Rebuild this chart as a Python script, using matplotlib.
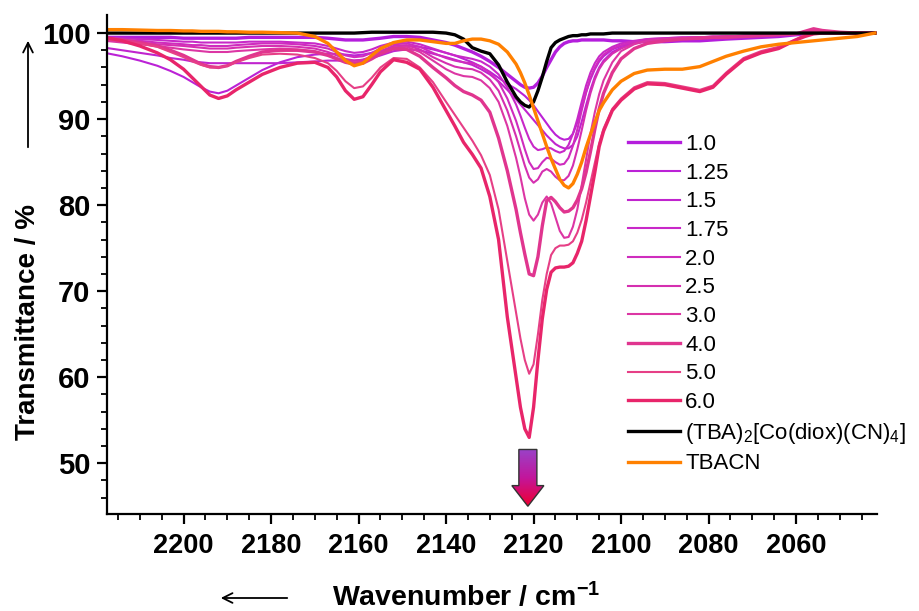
import numpy as np
import matplotlib
matplotlib.use("Agg")
import matplotlib.pyplot as plt
from matplotlib.colors import LinearSegmentedColormap
from matplotlib.patches import Polygon, FancyArrowPatch

plt.rcParams['font.family'] = ['Liberation Sans', 'DejaVu Sans']
plt.rcParams['mathtext.fontset'] = 'custom'
plt.rcParams['mathtext.rm'] = 'Liberation Sans'
plt.rcParams['mathtext.default'] = 'regular'

# wavenumber grid (cm-1) shared by all spectra
wn = [2218, 2214, 2210, 2206, 2203, 2200, 2198, 2196, 2194, 2192, 2190, 2188, 2185, 2182, 2178, 2174, 2170,
      2167, 2165, 2163, 2161, 2159, 2157, 2155, 2152, 2149, 2146, 2143, 2140,
      2138, 2136, 2134, 2132, 2130, 2128, 2126, 2124,
      2123, 2122, 2121, 2120, 2119, 2118, 2117, 2116, 2115, 2114, 2113,
      2112, 2111, 2110, 2109, 2108, 2107, 2106, 2105, 2104, 2102,
      2100, 2097, 2094, 2090, 2086, 2082, 2079, 2076, 2072, 2068, 2064, 2060, 2058, 2056, 2054, 2050, 2046, 2042]

# transmittance (%)
t_10 = [99.5, 99.5, 99.5, 99.5, 99.5, 99.4, 99.4, 99.4, 99.4, 99.4, 99.4, 99.4, 99.5, 99.5, 99.5, 99.5, 99.5,
        99.4, 99.3, 99.2, 99.2, 99.2, 99.3, 99.4, 99.6, 99.6, 99.5, 99.2, 98.9,
        98.6, 98.2, 97.8, 97.3, 96.7, 96.0, 95.2, 94.4,
        94.0, 93.7, 93.6, 93.7, 94.2, 95.0, 96.0, 96.9, 97.8, 98.4, 98.8,
        99.0, 99.1, 99.1, 99.2, 99.2, 99.2, 99.2, 99.2, 99.2, 99.1,
        99.1, 99.0, 99.0, 99.0, 99.1, 99.1, 99.2, 99.3, 99.4, 99.5, 99.6, 99.8, 99.9, 100.0, 100.0, 100.0, 100.0, 100.0]
t_125 = [97.7, 97.3, 96.8, 96.2, 95.6, 94.9, 94.3, 93.7, 93.2, 93.0, 93.3, 93.9, 94.8, 95.7, 96.6, 97.2, 97.5,
         97.6, 97.6, 97.5, 97.4, 97.5, 97.7, 97.9, 98.3, 98.5, 98.4, 98.1, 97.7,
         97.4, 97.0, 96.6, 96.1, 95.5, 94.8, 94.1, 93.5,
         93.1, 92.7, 92.2, 91.6, 90.9, 90.2, 89.5, 88.8, 88.2, 87.8, 87.6,
         87.7, 88.3, 89.6, 91.3, 93.1, 94.6, 95.8, 96.7, 97.3, 98.1,
         98.5, 98.9, 99.2, 99.3, 99.4, 99.5, 99.5, 99.6, 99.6, 99.7, 99.8, 99.9, 100.0, 100.0, 100.0, 100.0, 100.0, 100.0]
t_15 = [98.3, 98.0, 97.7, 97.4, 97.1, 96.9, 96.7, 96.6, 96.5, 96.5, 96.5, 96.5, 96.5, 96.5, 96.5, 96.6, 96.7,
        96.8, 96.8, 96.8, 96.8, 96.9, 97.1, 97.4, 97.9, 98.1, 98.0, 97.6, 97.2,
        96.9, 96.6, 96.3, 95.8, 95.2, 94.4, 93.4, 92.3,
        91.7, 91.1, 90.5, 89.9, 89.3, 88.7, 88.1, 87.6, 87.1, 86.8, 86.6,
        86.6, 87.0, 88.0, 89.7, 91.6, 93.4, 94.9, 96.0, 96.8, 97.8,
        98.3, 98.8, 99.1, 99.3, 99.4, 99.5, 99.5, 99.6, 99.6, 99.7, 99.8, 99.9, 100.0, 100.1, 100.1, 100.0, 100.0, 100.0]
t_175 = [99.5, 99.4, 99.3, 99.2, 99.1, 99.0, 99.0, 98.9, 98.9, 98.9, 98.9, 98.9, 99.0, 99.0, 99.0, 98.9, 98.8,
         98.5, 98.2, 97.9, 97.7, 97.8, 98.1, 98.5, 98.9, 99.0, 98.7, 98.2, 97.7,
         97.4, 97.2, 97.0, 96.7, 96.1, 95.2, 93.7, 91.7,
         90.4, 89.0, 87.7, 86.8, 86.4, 86.5, 86.7, 86.6, 86.3, 86.1, 86.3,
         87.0, 88.3, 90.0, 92.0, 93.9, 95.4, 96.5, 97.3, 97.8, 98.4,
         98.8, 99.1, 99.3, 99.4, 99.5, 99.5, 99.6, 99.6, 99.7, 99.7, 99.8, 99.9, 100.0, 100.1, 100.1, 100.0, 100.0, 100.0]
t_20 = [99.3, 99.2, 99.1, 98.9, 98.8, 98.7, 98.6, 98.6, 98.5, 98.5, 98.5, 98.6, 98.7, 98.8, 98.8, 98.7, 98.5,
        98.2, 97.8, 97.4, 97.2, 97.3, 97.7, 98.2, 98.7, 98.8, 98.4, 97.7, 97.1,
        96.8, 96.6, 96.5, 96.1, 95.4, 94.3, 92.4, 89.8,
        88.2, 86.5, 85.0, 84.2, 84.3, 85.0, 85.5, 85.4, 85.0, 84.7, 84.8,
        85.5, 86.9, 88.8, 91.0, 93.1, 94.8, 96.0, 96.9, 97.5, 98.2,
        98.6, 99.0, 99.3, 99.4, 99.5, 99.5, 99.6, 99.6, 99.7, 99.7, 99.8, 99.9, 100.0, 100.2, 100.1, 100.0, 100.0, 100.0]
t_25 = [99.2, 99.1, 98.9, 98.7, 98.6, 98.5, 98.4, 98.3, 98.2, 98.2, 98.2, 98.3, 98.4, 98.5, 98.5, 98.4, 98.2,
        97.8, 97.4, 97.0, 96.8, 96.9, 97.3, 97.9, 98.5, 98.6, 98.1, 97.2, 96.5,
        96.1, 95.9, 95.8, 95.4, 94.6, 93.3, 91.0, 88.0,
        86.3, 84.6, 83.2, 82.6, 83.0, 83.9, 84.2, 83.9, 83.3, 82.9, 82.9,
        83.4, 84.6, 86.5, 88.7, 91.0, 93.0, 94.6, 95.8, 96.6, 97.6,
        98.2, 98.8, 99.1, 99.3, 99.4, 99.5, 99.5, 99.6, 99.6, 99.7, 99.8, 99.9, 100.1, 100.3, 100.2, 100.0, 100.0, 100.0]
t_30 = [99.1, 98.9, 98.7, 98.5, 98.3, 98.1, 98.0, 97.9, 97.8, 97.8, 97.8, 97.9, 98.0, 98.1, 98.2, 98.1, 97.9,
        97.5, 97.1, 96.8, 96.6, 96.7, 97.1, 97.7, 98.3, 98.4, 97.8, 96.8, 95.8,
        95.3, 95.0, 94.9, 94.5, 93.6, 92.0, 89.2, 85.5,
        83.3, 80.8, 78.9, 78.2, 78.9, 80.3, 81.0, 80.2, 78.6, 77.0, 76.2,
        76.3, 77.5, 79.5, 82.3, 85.3, 88.3, 90.8, 92.9, 94.5, 96.6,
        97.9, 98.7, 99.1, 99.3, 99.4, 99.5, 99.5, 99.6, 99.6, 99.7, 99.8, 99.9, 100.2, 100.4, 100.2, 100.1, 100.0, 100.0]
t_40 = [99.4, 99.2, 98.9, 98.5, 98.0, 97.4, 96.9, 96.4, 96.1, 96.0, 96.2, 96.7, 97.3, 97.8, 98.0, 98.0, 97.8,
        97.4, 97.0, 96.6, 96.4, 96.5, 97.0, 97.6, 98.2, 98.1, 97.3, 96.0, 94.8,
        93.9, 93.2, 92.8, 92.2, 90.8, 87.8, 84.0, 79.5,
        76.8, 74.3, 72.0, 71.8, 74.0, 77.6, 80.5, 80.9, 80.4, 79.7, 79.2,
        79.3, 79.7, 80.6, 81.9, 83.8, 86.2, 88.8, 91.2, 93.0, 95.4,
        97.0, 98.2, 98.8, 99.1, 99.3, 99.4, 99.5, 99.5, 99.6, 99.7, 99.8, 99.9, 100.2, 100.5, 100.3, 100.1, 100.0, 100.0]
t_50 = [99.3, 99.1, 98.8, 98.4, 97.8, 97.2, 96.7, 96.3, 96.0, 96.0, 96.2, 96.6, 97.1, 97.5, 97.6, 97.5, 97.1,
        96.5, 95.6, 94.4, 93.6, 93.8, 94.8, 96.0, 97.1, 97.0, 96.0, 94.3, 92.0,
        90.5, 89.0, 87.5, 85.8, 83.5, 79.5, 73.5, 67.5,
        64.5, 62.0, 60.4, 61.5, 65.0, 69.0, 72.0, 74.2, 75.0, 75.3, 75.3,
        75.4, 75.8, 76.8, 78.3, 80.3, 82.6, 84.9, 87.2, 88.9, 91.2,
        92.4, 93.7, 94.3, 94.2, 93.8, 93.4, 93.9, 95.4, 97.1, 97.9, 98.4, 99.3, 99.8, 100.1, 100.1, 100.0, 100.0, 100.0]
t_60 = [99.5, 99.1, 98.5, 97.7, 96.9, 95.8, 94.8, 93.8, 92.8, 92.4, 92.7, 93.4, 94.3, 95.2, 96.0, 96.5, 96.6,
        96.0, 94.9, 93.3, 92.3, 92.6, 94.0, 95.5, 96.9, 96.6, 95.8, 93.7, 91.0,
        89.2, 87.3, 85.9, 84.3, 81.0, 76.0, 67.0, 60.0,
        56.5, 54.0, 53.0, 56.5, 62.0, 66.8, 70.2, 72.2, 72.7, 72.8, 72.8,
        72.9, 73.3, 74.4, 75.8, 78.2, 81.0, 83.8, 86.8, 88.6, 91.0,
        92.2, 93.5, 94.1, 94.0, 93.6, 93.2, 93.7, 95.2, 96.9, 97.7, 98.2, 99.2, 99.6, 99.9, 100.0, 100.0, 100.0, 100.0]
t_complex = [100.0, 100.0, 100.0, 100.0, 100.0, 100.0, 100.0, 100.0, 100.0, 100.0, 100.0, 100.0, 100.0, 100.0,
             100.0, 100.0, 100.0,
             100.0, 100.0, 100.0, 100.0, 100.05, 100.1, 100.1, 100.1, 100.1, 100.1, 100.1, 100.0,
             99.8, 99.3, 98.3, 97.9, 97.6, 96.3, 94.3, 92.6,
             92.0, 91.6, 91.4, 92.0, 93.3, 94.9, 96.7, 98.3, 98.9, 99.2, 99.4,
             99.6, 99.7, 99.7, 99.8, 99.8, 99.9, 99.9, 99.9, 99.9, 100.0,
             100.0, 100.0, 100.0, 100.0, 100.0, 100.0, 100.0, 100.0, 100.0, 100.0, 100.0, 100.0, 100.0, 100.0,
             100.0, 100.0, 100.0, 100.0]
t_tbacn = [100.4, 100.4, 100.35, 100.3, 100.3, 100.25, 100.25, 100.2, 100.2, 100.2, 100.15, 100.15, 100.1, 100.1,
           100.05, 100.0, 99.6,
           98.8, 97.8, 96.8, 96.2, 96.5, 97.4, 98.2, 98.9, 99.2, 99.2, 99.0, 98.8,
           98.8, 99.1, 99.3, 99.3, 99.1, 98.7, 97.8, 96.4,
           95.4, 94.2, 92.8, 91.3, 89.8, 88.3, 86.8, 85.4, 84.2, 83.0, 82.3,
           82.0, 82.5, 83.6, 85.0, 86.7, 88.2, 89.6, 91.0, 91.9, 93.4,
           94.4, 95.3, 95.7, 95.8, 95.8, 96.1, 96.7, 97.3, 97.9, 98.4, 98.7, 98.9, 99.0, 99.1, 99.2, 99.4, 99.6, 100.0]

labels = ["1.0", "1.25", "1.5", "1.75", "2.0", "2.5", "3.0", "4.0", "5.0", "6.0"]
series = [t_10, t_125, t_15, t_175, t_20, t_25, t_30, t_40, t_50, t_60]
colors = ["#B41EDC", "#BB22D6", "#C024CE", "#C828C8", "#CF2CBE", "#D52FB0", "#DC36A4",
          "#E0358F", "#E63F86", "#E8256A"]
widths = [2.4, 1.5, 1.5, 1.5, 1.5, 1.5, 1.5, 2.4, 1.5, 2.4]

fig = plt.figure(figsize=(9.2, 6.11), dpi=100)
ax = fig.add_axes([107 / 920, 1 - 514 / 611, 770 / 920, 499 / 611])

for y, lab, c, lw in zip(series, labels, colors, widths):
    ax.plot(wn, y, color=c, lw=lw, label=lab, solid_joinstyle="round")
ax.plot(wn, t_complex, color="black", lw=2.4, label="(TBA)$_2$[Co(diox)(CN)$_4$]",
        solid_joinstyle="round")
ax.plot(wn, t_tbacn, color="#FF8000", lw=2.4, label="TBACN", solid_joinstyle="round")

ax.set_xlim(2217.5, 2041.5)
ax.set_ylim(44.1, 102.1)
ax.set_xticks(np.arange(2200, 2059, -20))
ax.set_xticks(np.arange(2215, 2041, -5), minor=True)
ax.set_yticks(np.arange(50, 101, 10))
ax.set_yticks(np.arange(46, 102, 2), minor=True)
for s in ["top", "right"]:
    ax.spines[s].set_visible(False)
for s in ["left", "bottom"]:
    ax.spines[s].set_linewidth(1.6)
ax.tick_params(which="major", length=7, width=1.6)
ax.tick_params(which="minor", length=4, width=1.3)
ax.tick_params(axis="x", pad=7)
ax.tick_params(axis="y", pad=5)
for t in ax.get_xticklabels():
    t.set_fontweight("bold")
    t.set_fontsize(19.5)
for t in ax.get_yticklabels():
    t.set_fontweight("bold")
    t.set_fontsize(21)

leg = ax.legend(loc="upper left", bbox_to_anchor=(628 / 920, 1 - 134 / 611),
                bbox_transform=fig.transFigure, frameon=False, fontsize=16,
                handlelength=2.35, handletextpad=0.23, labelspacing=0.345, borderpad=0,
                borderaxespad=0)

# gradient arrow marking the growing band
xc, bw, hw = 2121.3, 2.06, 3.66
y_top, y_neck, y_tip = 51.6, 47.4, 45.0
verts = [(xc + bw, y_top), (xc - bw, y_top), (xc - bw, y_neck), (xc - hw, y_neck),
         (xc, y_tip), (xc + hw, y_neck), (xc + bw, y_neck)]
arrow = Polygon(verts, closed=True, facecolor="none", edgecolor="#333333", lw=1, zorder=6)
ax.add_patch(arrow)
cmap = LinearSegmentedColormap.from_list("arr", ["#9A42C8", "#C2169C", "#EE0032"])
grad = np.linspace(0, 1, 100).reshape(-1, 1)
im = ax.imshow(grad, cmap=cmap, aspect="auto", extent=(xc + hw, xc - hw, y_tip, y_top),
               origin="upper", zorder=5)
im.set_clip_path(arrow)
ax.set_xlim(2217.5, 2041.5)
ax.set_ylim(44.1, 102.1)

# axis titles with direction arrows
fig.text(28 / 920, 1 - 322 / 611, "Transmittance / %", rotation=90, ha="center", va="center",
         fontsize=20, fontweight="bold")
fig.text(466 / 920, 1 - 597 / 611, "Wavenumber / cm$^{\u22121}$", ha="center", va="center",
         fontsize=20.5, fontweight="bold")
fig.add_artist(FancyArrowPatch((28 / 920, 1 - 150 / 611), (28 / 920, 1 - 38 / 611),
                               transform=fig.transFigure, arrowstyle="->,head_length=7,head_width=3.5",
                               lw=1.3, color="black"))
fig.add_artist(FancyArrowPatch((290 / 920, 1 - 598 / 611), (218 / 920, 1 - 598 / 611),
                               transform=fig.transFigure, arrowstyle="->,head_length=7,head_width=3.5",
                               lw=1.3, color="black"))

fig.savefig("out.png", dpi=100)
